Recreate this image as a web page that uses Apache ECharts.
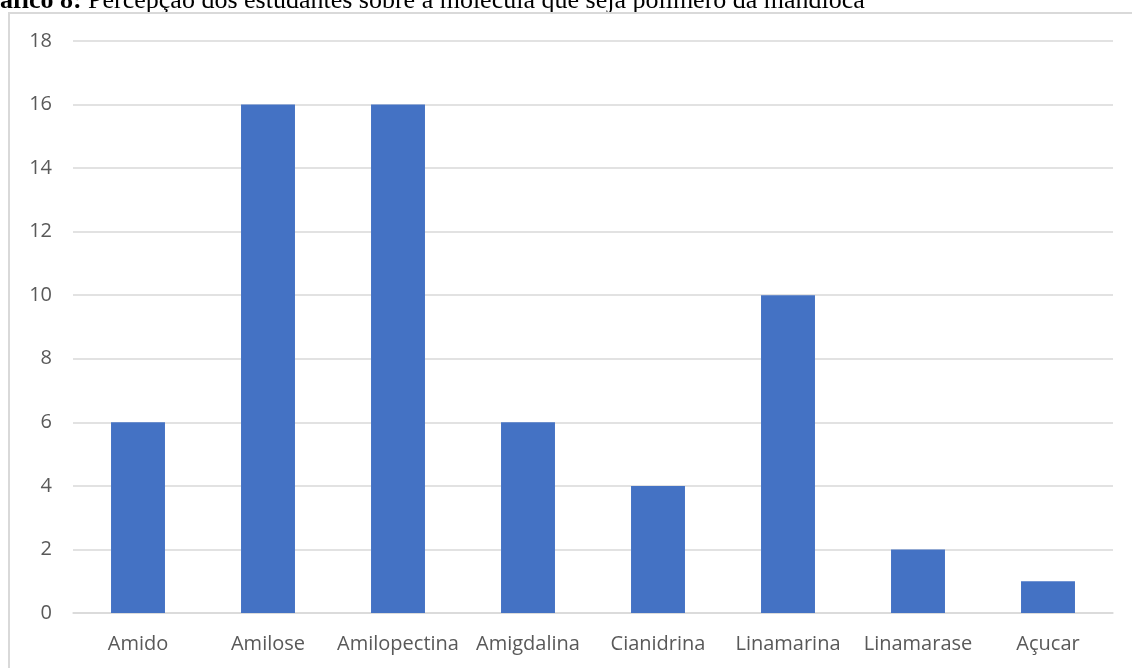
<!DOCTYPE html>
<html>
<head>
<meta charset="utf-8">
<script src="https://cdn.jsdelivr.net/npm/echarts@6/dist/echarts.min.js"></script>
<style>
html,body{margin:0;padding:0;background:#fff;}
#chart{width:1132px;height:668px;}
</style>
</head>
<body>
<div id="chart"></div>
<script>
const categories = ['Amido', 'Amilose', 'Amilopectina', 'Amigdalina', 'Cianidrina', 'Linamarina', 'Linamarase', 'Açucar'];
const counts = [6, 16, 16, 6, 4, 10, 2, 1];
const yTicks = {min: 0, max: 18, interval: 2};

const chart = echarts.init(document.getElementById('chart'));
const option = {
    backgroundColor: '#fff',
    animation: false,
    graphic: [
        {
            type: 'text',
            left: 0,
            top: -12,
            style: {
                text: '{b|áfico 8:} Percepção dos estudantes sobre a molécula que seja polímero da mandioca',
                font: '26px "Liberation Serif"',
                fill: '#000',
                rich: {
                    b: {font: 'bold 26px "Liberation Serif"', fill: '#000'}
                }
            }
        },
        {
            type: 'polyline',
            shape: {points: [[9, 668], [9, 13], [1132, 13]]},
            style: {stroke: '#d9d9d9', lineWidth: 2, fill: null}
        }
    ],
    grid: {left: 73, right: 19, top: 41, bottom: 55, containLabel: false},
    xAxis: {
        type: 'category',
        data: categories,
        axisTick: {show: false},
        axisLine: {lineStyle: {color: '#d9d9d9', width: 1.5}},
        axisLabel: {color: '#595959', fontSize: 20, fontFamily: 'Open Sans', margin: 21, interval: 0}
    },
    yAxis: {
        type: 'value',
        min: yTicks.min,
        max: yTicks.max,
        interval: yTicks.interval,
        axisLine: {show: false},
        axisTick: {show: false},
        splitLine: {lineStyle: {color: '#d9d9d9', width: 1.5}},
        axisLabel: {color: '#595959', fontSize: 20, fontFamily: 'Open Sans', margin: 21}
    },
    series: [{
        type: 'bar',
        data: counts,
        barWidth: '41.5%',
        itemStyle: {color: '#4472c4'}
    }]
};
chart.setOption(option);
</script>
</body>
</html>
